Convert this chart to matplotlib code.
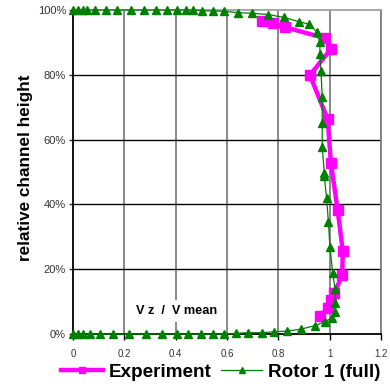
import matplotlib
matplotlib.use("Agg")
import matplotlib.pyplot as plt
from matplotlib.ticker import FuncFormatter

plt.rcParams['font.family'] = ['Liberation Sans', 'DejaVu Sans']

exp_x = [0.735, 0.780, 0.826, 0.982, 1.004, 0.923, 0.992, 1.005, 1.031, 1.051, 1.049, 1.018, 1.005, 0.993, 0.962]
exp_y = [96.7, 95.9, 94.7, 91.3, 87.9, 79.9, 66.3, 52.7, 38.3, 25.6, 18.2, 12.6, 10.5, 8.0, 5.5]

rot_x = [0.0, 0.02, 0.04, 0.056, 0.086, 0.127, 0.173, 0.225, 0.277, 0.323, 0.365, 0.404, 0.439, 0.469,
         0.501, 0.544, 0.588, 0.641, 0.696, 0.761, 0.822, 0.880, 0.921, 0.949, 0.962, 0.962, 0.966,
         0.971, 0.971, 0.971, 0.979, 0.979, 0.988, 0.995, 1.001, 1.012, 1.021, 1.021, 1.021, 1.008,
         0.982, 0.943, 0.888, 0.835, 0.783, 0.735, 0.683, 0.635, 0.589, 0.544, 0.497, 0.449, 0.404,
         0.345, 0.284, 0.218, 0.157, 0.105, 0.066, 0.04, 0.02, 0.0]
rot_y = [100, 100, 100, 100, 100, 100, 100, 100, 100, 100, 100, 100, 100, 100,
         99.8, 99.7, 99.6, 99.2, 99.0, 98.6, 97.7, 96.4, 95.6, 93.3, 90.0, 86.4, 81.3,
         73.2, 65.2, 57.8, 49.8, 48.8, 41.9, 34.7, 26.9, 18.7, 13.8, 9.7, 6.8, 5.0,
         3.8, 2.6, 1.5, 0.9, 0.7, 0.4, 0.4, 0.2, 0, 0, 0, 0, 0,
         0, 0, 0, 0, 0, 0, 0, 0, 0]

x_ticks = [0, 0.2, 0.4, 0.6, 0.8, 1, 1.2]
y_ticks = [0, 20, 40, 60, 80, 100]

fig = plt.figure(figsize=(3.9, 3.87), dpi=100)
ax = fig.add_axes([73/390, 1-334/387, (381-73)/390, (334-10)/387])

ax.set_xlim(0, 1.2)
ax.set_ylim(0, 100)
ax.set_xticks(x_ticks)
ax.set_yticks(y_ticks)
ax.xaxis.set_major_formatter(FuncFormatter(lambda v, p: f"{v:g}"))
ax.yaxis.set_major_formatter(FuncFormatter(lambda v, p: f"{v:.0f}%"))

for xv in x_ticks[1:]:
    ax.axvline(xv, color='#808080', lw=1.3, zorder=1)
for yv in y_ticks[1:-1]:
    ax.axhline(yv, color='black', lw=1.0, zorder=1)

ax.spines['top'].set_color('#a0a0a0')
ax.spines['right'].set_color('#808080')
ax.spines['left'].set_color('black')
ax.spines['bottom'].set_color('black')
for s in ax.spines.values():
    s.set_linewidth(1.3)

ax.tick_params(axis='x', length=4, width=1, direction='out', labelsize=7, pad=7, colors='#333333')
ax.tick_params(axis='y', length=3, width=1, direction='out', labelsize=8, pad=2, colors='#333333')
ax.tick_params(axis='x', color='black')

ax.plot(exp_x, exp_y, color='#FF00FF', lw=3.2, marker='s', markersize=7.5,
        markeredgecolor='#FF00FF', label='Experiment', zorder=3, clip_on=False)
ax.plot(rot_x, rot_y, color='#008000', lw=0.9, marker='^', markersize=6,
        markeredgecolor='#008000', label='Rotor 1 (full)', zorder=4, clip_on=False)

ax.text(0.405, 7.1, 'V z  /  V mean', fontsize=9.2, fontweight='bold', ha='center', va='center',
        bbox=dict(facecolor='white', edgecolor='none', pad=4), zorder=2)

ax.set_ylabel('relative channel height', fontsize=12.3, fontweight='bold')
ax.yaxis.set_label_coords((33-73)/308, (334-168)/324)

leg = fig.legend(loc='center', bbox_to_anchor=(221/390, 1-372/387), ncol=2, frameon=False,
                 prop={'size': 13.6, 'weight': 'bold'}, handlelength=2.2, handletextpad=0.3,
                 columnspacing=0.5, markerscale=0.65)

fig.savefig('out.png', dpi=100)
